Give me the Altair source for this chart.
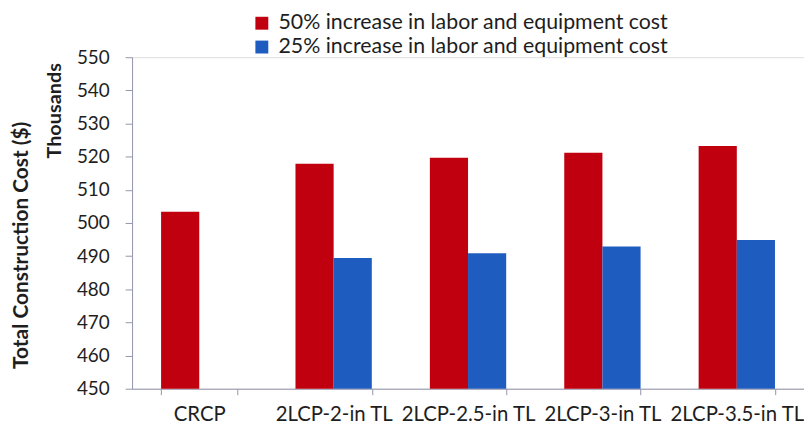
import altair as alt
import pandas as pd

categories = ["CRCP", "2LCP-2-in TL", "2LCP-2.5-in TL", "2LCP-3-in TL", "2LCP-3.5-in TL"]
series_names = ["50% increase in labor and equipment cost",
                "25% increase in labor and equipment cost"]
cost_50 = [503.4, 517.9, 519.7, 521.2, 523.2]
cost_25 = [None, 489.4, 490.9, 492.9, 494.9]
series_colors = ["#C0000F", "#1F5CBF"]
y_ticks = list(range(450, 551, 10))

rows = []
for c, a, b in zip(categories, cost_50, cost_25):
    if a is not None:
        rows.append({"category": c, "series": series_names[0], "value": a})
    if b is not None:
        rows.append({"category": c, "series": series_names[1], "value": b})
df = pd.DataFrame(rows)

FONT = "Lato"
AXIS_COLOR = "#9494AC"
TEXT = "#1E1E1E"

bars = alt.Chart(df).mark_bar(clip=True).encode(
    x=alt.X("category:N", sort=categories,
            scale=alt.Scale(paddingInner=0.432, paddingOuter=0.216),
            axis=alt.Axis(title=None, labelAngle=0, tickBand="extent",
                          labelFont=FONT, labelFontSize=20.5, labelColor=TEXT,
                          labelPadding=10, tickSize=6, domainColor=AXIS_COLOR,
                          tickColor=AXIS_COLOR, labelLimit=0)),
    xOffset=alt.XOffset("series:N", sort=series_names,
                        scale=alt.Scale(domain=series_names, paddingInner=0, paddingOuter=0)),
    y=alt.Y("value:Q",
            scale=alt.Scale(domain=[450, 550], nice=False, zero=False),
            axis=alt.Axis(title="Total Construction Cost ($)", values=y_ticks,
                          grid=False, labelFont=FONT, labelFontSize=19,
                          labelColor=TEXT, labelPadding=16, tickSize=7,
                          domainColor=AXIS_COLOR, tickColor=AXIS_COLOR,
                          titleFont=FONT, titleFontSize=21, titleFontWeight="bold",
                          titleColor=TEXT, titleAngle=-90, titleX=-111, titleY=189,
                          titleAlign="center", titleBaseline="middle")),
    color=alt.Color("series:N", sort=series_names,
                    scale=alt.Scale(domain=series_names, range=series_colors),
                    legend=alt.Legend(title=None, orient="none", legendX=120, legendY=-45,
                                      direction="vertical", symbolType="square",
                                      symbolSize=169, symbolStrokeWidth=0,
                                      labelFont=FONT, labelFontSize=21.5, labelColor=TEXT,
                                      labelOffset=6, rowPadding=1, labelLimit=0,
                                      padding=0)),
)

thousands = alt.Chart(pd.DataFrame({"t": ["Thousands"]})).mark_text(
    angle=270, font=FONT, fontSize=20, fontWeight="bold", color=TEXT,
    align="center", baseline="middle"
).encode(x=alt.value(-78), y=alt.value(54), text="t:N")

chart = alt.layer(bars, thousands).properties(
    width=677, height=334,
    autosize=alt.AutoSizeParams(type="none"),
    padding={"left": 125, "top": 48, "right": 0, "bottom": 40},
).configure_view(stroke=None).configure(background="white")

chart.save("out.html", embed_options={"renderer": "svg", "actions": False})
